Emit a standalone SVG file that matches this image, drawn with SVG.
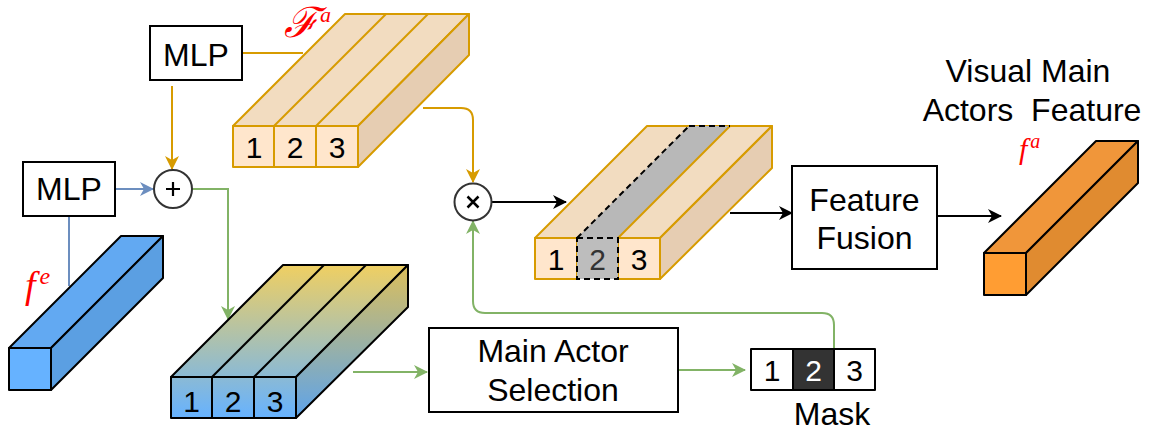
<svg xmlns="http://www.w3.org/2000/svg" width="1153" height="431" viewBox="0 0 1153 431">
  <style>
    .lbl { font-family: "Liberation Sans", Arial, sans-serif; font-size: 32px; fill: #000; text-anchor: middle; }
    .cell { font-family: "Liberation Sans", Arial, sans-serif; font-size: 30px; fill: #000; text-anchor: middle; }
    .box { fill: #fff; stroke: #000; stroke-width: 2; }
    .math { font-family: "Liberation Serif", "DejaVu Serif", serif; font-style: italic; fill: #ff0000; }
    .org { stroke: #d79b00; stroke-width: 2; stroke-linejoin: round; }
    .blk { stroke: #000; stroke-width: 2; stroke-linejoin: round; }
    .conn { fill: none; stroke-width: 2; }
  </style>
  <defs>
    <marker id="arrOrange" viewBox="0 0 14 14" refX="13" refY="7" markerWidth="14" markerHeight="14" markerUnits="userSpaceOnUse" orient="auto">
      <path d="M0,0 L14,7 L0,14 L4,7 Z" fill="#d79b00"/>
    </marker>
    <marker id="arrBlue" viewBox="0 0 14 14" refX="13" refY="7" markerWidth="14" markerHeight="14" markerUnits="userSpaceOnUse" orient="auto">
      <path d="M0,0 L14,7 L0,14 L4,7 Z" fill="#6c8ebf"/>
    </marker>
    <marker id="arrGreen" viewBox="0 0 14 14" refX="13" refY="7" markerWidth="14" markerHeight="14" markerUnits="userSpaceOnUse" orient="auto">
      <path d="M0,0 L14,7 L0,14 L4,7 Z" fill="#82b366"/>
    </marker>
    <marker id="arrBlack" viewBox="0 0 14 14" refX="13" refY="7" markerWidth="14" markerHeight="14" markerUnits="userSpaceOnUse" orient="auto">
      <path d="M0,0 L14,7 L0,14 L4,7 Z" fill="#000"/>
    </marker>
    <linearGradient id="gradMix" gradientUnits="userSpaceOnUse" x1="0" y1="265" x2="0" y2="418">
      <stop offset="0" stop-color="#efcf62"/>
      <stop offset="1" stop-color="#66b2ff"/>
    </linearGradient>
  </defs>

  <!-- connectors -->
  <g id="connectors">
    <line class="conn" x1="242" y1="53" x2="303" y2="53" stroke="#d79b00"/>
    <line class="conn" x1="172" y1="86" x2="172" y2="169" stroke="#d79b00" marker-end="url(#arrOrange)"/>
    <line class="conn" x1="115" y1="189" x2="153" y2="189" stroke="#6c8ebf" marker-end="url(#arrBlue)"/>
    <line class="conn" x1="69" y1="216" x2="69" y2="286" stroke="#6c8ebf"/>
    <path class="conn" d="M192,189 L228,189 L228,319" stroke="#82b366" marker-end="url(#arrGreen)"/>
    <path class="conn" d="M423,108 L461,108 Q473,108 473,120 L473,182" stroke="#d79b00" marker-end="url(#arrOrange)"/>
    <line class="conn" x1="492" y1="202" x2="566" y2="202" stroke="#000" marker-end="url(#arrBlack)"/>
    <path class="conn" d="M834,349 L834,325 Q834,313 822,313 L485,313 Q473,313 473,301 L473,221" stroke="#82b366" marker-end="url(#arrGreen)"/>
    <line class="conn" x1="353" y1="372" x2="427" y2="372" stroke="#82b366" marker-end="url(#arrGreen)"/>
    <line class="conn" x1="678" y1="370" x2="745" y2="370" stroke="#82b366" marker-end="url(#arrGreen)"/>
    <line class="conn" x1="730" y1="213" x2="792" y2="213" stroke="#000" marker-end="url(#arrBlack)"/>
    <line class="conn" x1="938" y1="216" x2="1001" y2="216" stroke="#000" marker-end="url(#arrBlack)"/>
  </g>

  <!-- MLP boxes -->
  <g id="mlp-top">
    <rect class="box" x="150" y="26" width="92" height="54"/>
    <text class="lbl" x="196" y="66">MLP</text>
  </g>
  <g id="mlp-left">
    <rect class="box" x="23" y="162" width="92" height="54"/>
    <text class="lbl" x="69" y="200">MLP</text>
  </g>

  <!-- sum and product operators -->
  <g id="op-add">
    <circle cx="173" cy="189" r="19" fill="#fff" stroke="#333" stroke-width="2"/>
    <path d="M166,189 H180 M173,182 V196" stroke="#000" stroke-width="2.2"/>
  </g>
  <g id="op-mul">
    <circle cx="473" cy="202" r="18.5" fill="#fff" stroke="#333" stroke-width="2"/>
    <path d="M467.5,196.5 L478.5,207.5 M478.5,196.5 L467.5,207.5" stroke="#000" stroke-width="2.5"/>
  </g>

  <!-- actor feature tensor F^a -->
  <g id="tensor-fa">
    <polygon class="org" points="233,126 345,14 469,14 358,126" fill="#f2dcc0"/>
    <polygon class="org" points="358,126 469,14 469,55 358,167" fill="#e6cdb2"/>
    <line class="org" x1="274" y1="126" x2="386" y2="14"/>
    <line class="org" x1="316" y1="126" x2="428" y2="14"/>
    <rect class="org" x="233" y="126" width="41" height="41" fill="#ffe6cc"/>
    <rect class="org" x="274" y="126" width="42" height="41" fill="#ffe6cc"/>
    <rect class="org" x="316" y="126" width="42" height="41" fill="#ffe6cc"/>
    <text class="cell" x="254" y="158">1</text>
    <text class="cell" x="295" y="158">2</text>
    <text class="cell" x="337" y="158">3</text>
    <text class="math" x="284" y="37" font-size="42">ℱ<tspan dx="1" dy="-15" font-size="22">a</tspan></text>
  </g>

  <!-- event feature f^e -->
  <g id="feature-fe">
    <polygon class="blk" points="9,348 121,236 163,236 51,348" fill="#62a9f2"/>
    <polygon class="blk" points="51,348 163,236 163,278 51,390" fill="#5b9fe2"/>
    <rect class="blk" x="9" y="348" width="42" height="42" fill="#66b2ff"/>
    <text class="math" x="25" y="298" font-size="38">f<tspan dx="4" dy="-14" font-size="24">e</tspan></text>
  </g>

  <!-- fused tensor -->
  <g id="tensor-fused">
    <polygon class="blk" points="171,377 283,265 408,265 296,377" fill="url(#gradMix)"/>
    <polygon class="blk" points="296,377 408,265 408,307 296,418" fill="url(#gradMix)"/>
    <polygon points="296,377 408,265 408,307 296,418" fill="#000" opacity="0.08"/>
    <line class="blk" x1="212" y1="377" x2="324" y2="265"/>
    <line class="blk" x1="254" y1="377" x2="366" y2="265"/>
    <rect class="blk" x="171" y="377" width="41" height="41" fill="url(#gradMix)"/>
    <rect class="blk" x="212" y="377" width="42" height="41" fill="url(#gradMix)"/>
    <rect class="blk" x="254" y="377" width="42" height="41" fill="url(#gradMix)"/>
    <text class="cell" x="191.5" y="412">1</text>
    <text class="cell" x="233" y="412">2</text>
    <text class="cell" x="275" y="412">3</text>
  </g>

  <!-- main actor selection -->
  <g id="main-actor-selection">
    <rect class="box" x="429" y="328" width="249" height="84"/>
    <text class="lbl" x="553" y="362">Main Actor</text>
    <text class="lbl" x="553" y="401">Selection</text>
  </g>

  <!-- mask -->
  <g id="mask">
    <rect class="blk" x="751" y="349" width="42" height="41" fill="#fff"/>
    <rect class="blk" x="793" y="349" width="41" height="41" fill="#333333"/>
    <rect class="blk" x="834" y="349" width="41" height="41" fill="#fff"/>
    <text class="cell" x="772" y="381">1</text>
    <text class="cell" x="813.5" y="381" style="fill:#fff">2</text>
    <text class="cell" x="854.5" y="381">3</text>
    <text class="lbl" x="832" y="425">Mask</text>
  </g>

  <!-- masked tensor -->
  <g id="tensor-masked">
    <polygon class="org" points="535,238 647,126 772,126 660,238" fill="#f2dcc0"/>
    <polygon class="org" points="660,238 772,126 772,168 660,279" fill="#e6cdb2"/>
    <polygon points="577,238 689,126 730,126 618,238" fill="#b8b8b8"/>
    <line class="org" x1="618" y1="238" x2="730" y2="126"/>
    <line x1="577" y1="238" x2="689" y2="126" stroke="#000" stroke-width="2" stroke-dasharray="6 4"/>
    <line x1="689" y1="126" x2="730" y2="126" stroke="#000" stroke-width="2" stroke-dasharray="6 4"/>
    <rect class="org" x="535" y="238" width="42" height="41" fill="#ffe6cc"/>
    <rect class="org" x="618" y="238" width="42" height="41" fill="#ffe6cc"/>
    <rect x="577" y="238" width="41" height="41" fill="#bdbdbd" stroke="#000" stroke-width="2" stroke-dasharray="6 4"/>
    <text class="cell" x="556" y="270">1</text>
    <text class="cell" x="597.5" y="270" style="fill:#333">2</text>
    <text class="cell" x="639" y="270">3</text>
  </g>

  <!-- feature fusion -->
  <g id="feature-fusion">
    <rect class="box" x="792" y="166" width="145" height="103"/>
    <text class="lbl" x="864.5" y="211">Feature</text>
    <text class="lbl" x="864.5" y="249">Fusion</text>
  </g>

  <!-- output feature f^a -->
  <g id="feature-fa">
    <polygon class="blk" points="984,253 1096,141 1138,141 1026,253" fill="#f0963a"/>
    <polygon class="blk" points="1026,253 1138,141 1138,183 1026,295" fill="#e08b30"/>
    <rect class="blk" x="984" y="253" width="42" height="42" fill="#ff9d33"/>
    <text class="math" x="1019" y="159" font-size="30">f<tspan dx="3" dy="-11" font-size="20">a</tspan></text>
    <text class="lbl" x="1028" y="82">Visual Main</text>
    <text class="lbl" x="1032" y="121" style="white-space:pre">Actors  Feature</text>
  </g>
</svg>
